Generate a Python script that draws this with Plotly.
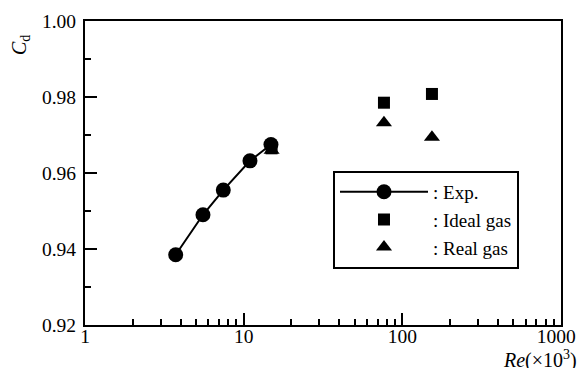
import plotly.graph_objects as go

# Data
exp_re = [3.73, 5.54, 7.44, 10.96, 14.86]
exp_cd = [0.9385, 0.9490, 0.9555, 0.9632, 0.9675]
ideal_re = [15.0, 76.6, 153.7]
ideal_cd = [0.9665, 0.9785, 0.9808]
real_re = [15.0, 76.6, 153.7]
real_cd = [0.9660, 0.9732, 0.9694]

x_ticks = [1, 10, 100, 1000]
x_ticktext = ["1", "10", "100", "1000\u00a0\u00a0"]
y_ticks = [0.92, 0.94, 0.96, 0.98, 1.00]

FONT = "Liberation Serif, Times New Roman, serif"

fig = go.Figure()
fig.add_trace(go.Scatter(x=ideal_re, y=ideal_cd, mode="markers", name=": Ideal gas",
                         marker=dict(symbol="square", size=12, color="black"), legendrank=2))
fig.add_trace(go.Scatter(x=real_re, y=real_cd, mode="markers", name=": Real gas",
                         marker=dict(symbol="triangle-up", size=14, color="black"), legendrank=3))
fig.add_trace(go.Scatter(x=exp_re, y=exp_cd, mode="lines+markers", name=": Exp.",
                         line=dict(color="black", width=2),
                         marker=dict(symbol="circle", size=15, color="black"), legendrank=1))

tick_style = dict(ticks="inside", ticklen=12, tickwidth=2, tickcolor="black",
                  showgrid=False, zeroline=False, automargin=False)
line_style = dict(showline=True, linecolor="black", linewidth=2, mirror=True)
tickfont = dict(family=FONT, size=19.5, color="black")

xminor = dict(ticks="inside", ticklen=6, tickwidth=2, tickcolor="black", dtick="D1")
yminor = dict(ticks="inside", ticklen=6, tickwidth=2, tickcolor="black", dtick=0.01)

fig.update_layout(
    xaxis=dict(type="log", range=[0, 3], tickvals=x_ticks,
               ticktext=x_ticktext, minor=xminor, ticklabeloverflow="allow",
               tickfont=tickfont, ticklabelstandoff=-7, **tick_style, **line_style),
    yaxis=dict(range=[0.92, 1.00], tickvals=y_ticks,
               ticktext=[f"{v:.2f}" for v in y_ticks], minor=yminor,
               tickfont=tickfont, ticklabelstandoff=3, **tick_style, **line_style),
    xaxis2=dict(type="log", range=[0, 3], tickvals=x_ticks, minor=xminor,
                overlaying="x", side="top", anchor="y", showticklabels=False,
                showline=False, **tick_style),
    yaxis2=dict(range=[0.92, 1.00], tickvals=y_ticks, minor=yminor,
                overlaying="y", side="right", anchor="x", showticklabels=False,
                showline=False, **tick_style),
)

fig.update_layout(
    width=581, height=368,
    margin=dict(l=85, r=20, t=21, b=43, autoexpand=False),
    plot_bgcolor="white", paper_bgcolor="white",
    font=dict(family=FONT, size=20, color="black"),
    showlegend=True,
    legend=dict(x=0.521, y=0.507, xanchor="left", yanchor="top",
                bordercolor="black", borderwidth=2, bgcolor="white",
                itemwidth=88, font=dict(family=FONT, size=19, color="black"),
                tracegroupgap=0),
    annotations=[
        dict(text="<i>C</i><sub>d</sub>", xref="paper", yref="paper", x=0, y=1,
             xshift=-65, yshift=-24, xanchor="center", yanchor="middle",
             showarrow=False, textangle=-90, font=dict(family=FONT, size=20)),
        dict(text="<i>Re</i>(×10<sup>3</sup>)", xref="paper", yref="paper", x=1, y=0,
             xshift=18, yshift=-34, xanchor="right", yanchor="middle",
             showarrow=False, font=dict(family=FONT, size=20)),
    ],
)

fig.write_html("out.html", config={"displayModeBar": False},
               post_script="document.body.style.margin='0';document.body.style.overflow='hidden';")
